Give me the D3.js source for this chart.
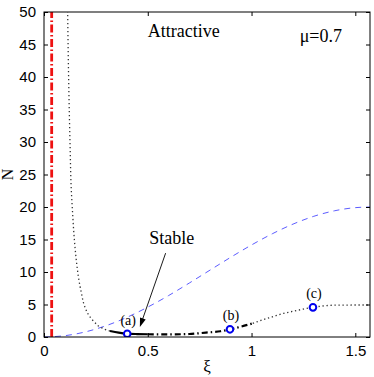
<!DOCTYPE html>
<html><head><meta charset="utf-8">
<script src="https://cdn.jsdelivr.net/npm/d3@7/dist/d3.min.js"></script>
<style>html,body{margin:0;padding:0;background:#fff;}svg{display:block;}</style>
</head><body>
<script>
// ---- data ----
const xTicks = [0, 0.5, 1, 1.5];
const yTicks = [0, 5, 10, 15, 20, 25, 30, 35, 40, 45, 50];
const xMax = 1.5708;
const redLineX = 0.037;
// blue dashed curve
const blueXi = [0, 0.1, 0.2, 0.3, 0.4, 0.5, 0.6, 0.7, 0.8, 0.9, 1.0, 1.1, 1.2, 1.3, 1.4, 1.5, 1.5708];
const blueN  = [0, 0.2, 0.79, 1.75, 3.03, 4.6, 6.37, 8.3, 10.29, 12.27, 14.16, 15.88, 17.37, 18.57, 19.42, 19.9, 20];
// left dotted branch
const dotLXi = [0.114, 0.117, 0.121, 0.126, 0.131, 0.137, 0.145, 0.155, 0.167, 0.180, 0.195, 0.215, 0.240, 0.270, 0.300, 0.318];
const dotLN  = [50, 43, 36, 29, 23, 19.5, 15.5, 12, 9, 6.8, 4.8, 3.4, 2.4, 1.55, 1.1, 0.92];
// solid stable branch
const solidXi = [0.318, 0.36, 0.40, 0.45, 0.5];
const solidN  = [0.92, 0.68, 0.52, 0.45, 0.42];
// dash-dot branch
const dashDotXi = [0.5, 0.6, 0.7, 0.78, 0.85, 0.896, 0.95, 1.006];
const dashDotN  = [0.42, 0.4, 0.46, 0.68, 0.88, 1.18, 1.6, 2.1];
// right dotted branch
const dotRXi = [1.006, 1.05, 1.1, 1.15, 1.2, 1.25, 1.296, 1.35, 1.4, 1.5, 1.5708];
const dotRN  = [2.1, 2.6, 3.1, 3.6, 3.95, 4.3, 4.56, 4.8, 4.9, 4.92, 4.92];
// marked points
const markLabels = ["(a)", "(b)", "(c)"];
const markXi = [0.401, 0.896, 1.296];
const markN  = [0.5, 1.18, 4.56];

const W = 374, H = 377;
const m = {l: 44, r: 4, t: 12, b: 40};
const svg = d3.select("body").append("svg").attr("width", W).attr("height", H);
const x = d3.scaleLinear().domain([0, xMax]).range([m.l, W - m.r]);
const y = d3.scaleLinear().domain([0, 50]).range([H - m.b, m.t]);

const line = d3.line().x(d => x(d[0])).y(d => y(d[1])).curve(d3.curveMonotoneX);
const lineY = d3.line().x(d => x(d[0])).y(d => y(d[1])).curve(d3.curveMonotoneY);
const zip = (a, b) => a.map((v, i) => [v, b[i]]);

const g = svg.append("g");
g.append("defs").append("clipPath").attr("id", "clip").append("rect")
  .attr("x", m.l).attr("y", m.t).attr("width", W - m.l - m.r).attr("height", H - m.t - m.b);
const plot = g.append("g").attr("clip-path", "url(#clip)");

// red dash-dot vertical line
plot.append("line").attr("x1", x(redLineX)).attr("x2", x(redLineX))
  .attr("y1", y(0)).attr("y2", y(50))
  .attr("stroke", "#ee1111").attr("stroke-width", 2.8)
  .attr("stroke-dasharray", "8,2.5,1.5,2.5");

// blue dashed
plot.append("path").attr("d", line(zip(blueXi, blueN))).attr("fill", "none")
  .attr("stroke", "#4a4aff").attr("stroke-width", 0.9).attr("stroke-dasharray", "6,5");

// left dotted
plot.append("path").attr("d", lineY(zip(dotLXi, dotLN).slice().reverse())).attr("fill", "none")
  .attr("stroke", "#333").attr("stroke-width", 1.3).attr("stroke-dasharray", "1.3,2.7");
// solid
plot.append("path").attr("d", line(zip(solidXi, solidN))).attr("fill", "none")
  .attr("stroke", "#000").attr("stroke-width", 2.2);
// dash-dot
plot.append("path").attr("d", line(zip(dashDotXi, dashDotN))).attr("fill", "none")
  .attr("stroke", "#000").attr("stroke-width", 2.2).attr("stroke-dasharray", "6,3,1.5,3");
// right dotted
plot.append("path").attr("d", line(zip(dotRXi, dotRN))).attr("fill", "none")
  .attr("stroke", "#333").attr("stroke-width", 1.3).attr("stroke-dasharray", "1.3,2.7");

// frame
g.append("rect").attr("x", m.l).attr("y", m.t).attr("width", W - m.l - m.r).attr("height", H - m.t - m.b)
  .attr("fill", "none").attr("stroke", "#000").attr("stroke-width", 1);

// axes
const tickFont = "Liberation Sans, Arial, sans-serif";
const xa = g.append("g").attr("transform", `translate(0,${y(0)})`)
  .call(d3.axisBottom(x).tickValues(xTicks).tickFormat(d3.format("")).tickSizeInner(-4).tickSizeOuter(0).tickPadding(8));
const xt = g.append("g").attr("transform", `translate(0,${y(50)})`)
  .call(d3.axisTop(x).tickValues(xTicks).tickFormat("").tickSizeInner(-4).tickSizeOuter(0));
const ya = g.append("g").attr("transform", `translate(${x(0)},0)`)
  .call(d3.axisLeft(y).tickValues(yTicks).tickSizeInner(-4).tickSizeOuter(0).tickPadding(8));
const yr = g.append("g").attr("transform", `translate(${x(xMax)},0)`)
  .call(d3.axisRight(y).tickValues(yTicks).tickFormat("").tickSizeInner(-4).tickSizeOuter(0));
[xa, xt, ya, yr].forEach(a => {
  a.select(".domain").remove();
  a.selectAll("line").attr("stroke", "#000");
  a.selectAll("text").attr("font-family", tickFont).attr("font-size", 15).attr("fill", "#000");
});

// markers
plot.selectAll("circle.mk").data(markXi).enter().append("circle")
  .attr("cx", d => x(d)).attr("cy", (d, i) => y(markN[i])).attr("r", 3.3)
  .attr("fill", "#fff").attr("stroke", "#0000ee").attr("stroke-width", 2);

const serif = "Liberation Serif, Times New Roman, serif";
g.selectAll("text.mk").data(markLabels).enter().append("text")
  .attr("x", (d, i) => x(markXi[i]) + 1).attr("y", (d, i) => y(markN[i]) - 9)
  .attr("text-anchor", "middle").attr("font-family", serif).attr("font-size", 14).text(d => d);

// annotations
g.append("text").attr("x", x(0.5)).attr("y", y(46.1)).attr("font-family", serif).attr("font-size", 18).text("Attractive");
g.append("text").attr("x", x(1.232)).attr("y", y(45.4)).attr("font-family", serif).attr("font-size", 18).text("μ=0.7");
g.append("text").attr("x", x(0.507)).attr("y", y(14.3)).attr("font-family", serif).attr("font-size", 18).text("Stable");

// arrow
const ax1 = x(0.586), ay1 = y(12.9), ax2 = x(0.462), ay2 = y(1.55);
const ang = Math.atan2(ay2 - ay1, ax2 - ax1);
const hl = 9, hw = 3;
g.append("line").attr("x1", ax1).attr("y1", ay1)
  .attr("x2", ax2 - Math.cos(ang) * hl * 0.8).attr("y2", ay2 - Math.sin(ang) * hl * 0.8)
  .attr("stroke", "#000").attr("stroke-width", 0.9);
const bx = ax2 - Math.cos(ang) * hl, by = ay2 - Math.sin(ang) * hl;
g.append("path").attr("d", `M${ax2},${ay2}L${bx + Math.sin(ang) * hw},${by - Math.cos(ang) * hw}L${bx - Math.sin(ang) * hw},${by + Math.cos(ang) * hw}Z`)
  .attr("fill", "#000");

// axis labels
g.append("text").attr("x", (x(0) + x(xMax)) / 2).attr("y", 372).attr("text-anchor", "middle")
  .attr("font-family", serif).attr("font-size", 17).text("ξ");
g.append("text").attr("transform", `translate(13,${(y(0) + y(50)) / 2}) rotate(-90)`).attr("text-anchor", "middle")
  .attr("font-family", serif).attr("font-size", 16).text("N");
</script>
</body></html>
